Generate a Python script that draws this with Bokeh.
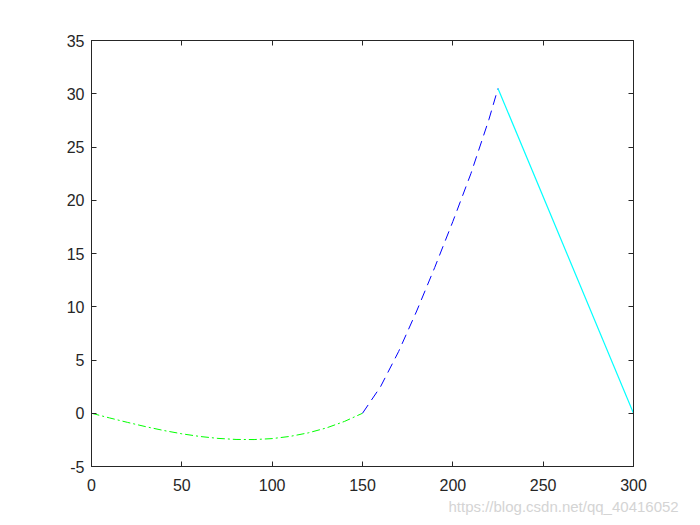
from bokeh.plotting import figure
from bokeh.models import Range1d, FixedTicker, LinearAxis, Title
from bokeh.embed import file_html
from bokeh.resources import INLINE

# Segment 1 (green, dash-dot)
x1 = [0, 10, 20, 30, 40, 50, 60, 70, 80, 90, 100, 110, 120, 130, 140, 150]
y1 = [0, -0.44, -0.86, -1.26, -1.62, -1.93, -2.18, -2.36, -2.46, -2.47, -2.38, -2.17, -1.84, -1.38, -0.77, 0]
# Segment 2 (blue, dashed)
x2 = [150, 160, 170, 180, 190, 200, 210, 220, 225]
y2 = [0, 2.5, 5.8, 9.6, 13.7, 18.0, 22.5, 27.6, 30.5]
# Segment 3 (cyan, solid)
x3 = [225, 300]
y3 = [30.5, 0]

x_ticks = [0, 50, 100, 150, 200, 250, 300]
y_ticks = [-5, 0, 5, 10, 15, 20, 25, 30, 35]
y_tick_labels = {t: str(t) for t in y_ticks}

AX = "#262626"
FONT = "Liberation Sans"

p = figure(width=692, height=520, x_range=Range1d(0, 300), y_range=Range1d(-5, 35),
           output_backend="svg", toolbar_location=None,
           min_border_left=91, min_border_right=59, min_border_top=40, min_border_bottom=54)
p.background_fill_color = "white"
p.border_fill_color = "white"
p.outline_line_color = AX
p.grid.visible = False

top_ax = LinearAxis()
right_ax = LinearAxis()
p.add_layout(top_ax, "above")
p.add_layout(right_ax, "right")

bottom_ax = p.below[0]
left_ax = p.left[0]

bottom_ax.ticker = FixedTicker(ticks=x_ticks)
top_ax.ticker = FixedTicker(ticks=x_ticks)
left_ax.ticker = FixedTicker(ticks=y_ticks)
right_ax.ticker = FixedTicker(ticks=y_ticks)
left_ax.major_label_overrides = y_tick_labels

for ax in [bottom_ax, top_ax, left_ax, right_ax]:
    ax.axis_line_color = AX
    ax.major_tick_line_color = AX
    ax.major_tick_in = 5
    ax.major_tick_out = 0
    ax.minor_tick_line_color = None
    ax.major_label_text_font = FONT
    ax.major_label_text_font_size = "16px"
    ax.major_label_text_color = AX

for ax in [top_ax, right_ax]:
    ax.major_label_text_color = None
    ax.major_label_text_font_size = "0px"
    ax.major_label_standoff = 0

bottom_ax.major_label_standoff = 12
left_ax.major_label_standoff = 7

p.line(x1, y1, line_color="#00ff00", line_width=1, line_dash="8 3 2 3")
p.line(x2, y2, line_color="#0000ff", line_width=1, line_dash="10 6")
p.line(x3, y3, line_color="#00ffff", line_width=1.2)

wm = Title(text="https://blog.csdn.net/qq_40416052", align="left", offset=357,
           text_font=FONT, text_font_size="15px", text_font_style="normal",
           text_color="#d4d4d4", standoff=4)
p.add_layout(wm, "below")

open("out.html", "w").write(file_html(p, INLINE))
